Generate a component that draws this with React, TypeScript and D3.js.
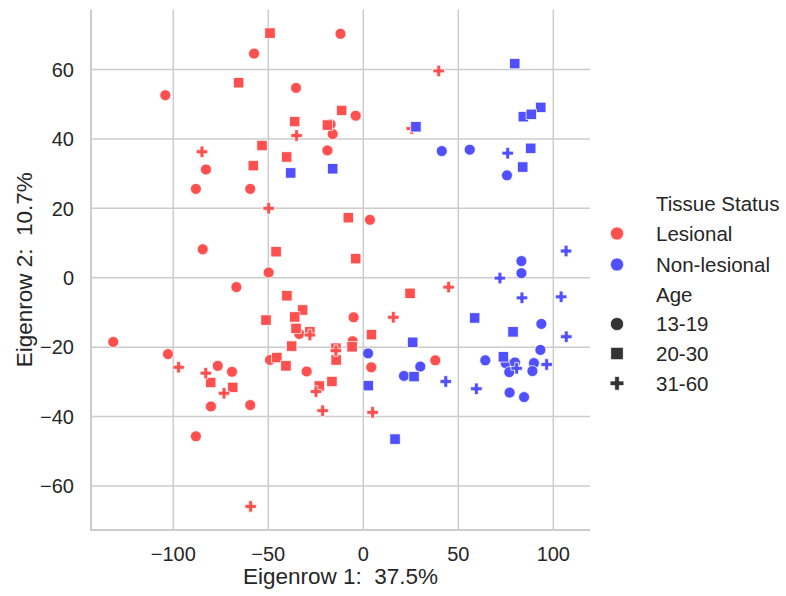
import React from "react";
import * as d3 from "d3";

// ---- data (Eigenrow 1, Eigenrow 2) ----
const lesionalCircleX = [-57.5, -12, -104.2, -35.4, -4.0, -17.2, -16.1, -18.9, -82.8, -88.1, -59.5, 3.5, -84.5, -49.8, -66.8, -5.1, -33.7, -131.6, -102.8, -5.6, -49.1, 37.9, 4.2, -76.6, -69.1, -29.8, -80.2, -59.5, -88.1];
const lesionalCircleY = [64.6, 70.3, 52.6, 54.7, 46.7, 44.2, 41.4, 36.7, 31.2, 25.6, 25.6, 16.7, 8.2, 1.5, -2.7, -11.4, -16.2, -18.5, -22.0, -18.3, -23.7, -23.8, -25.8, -25.4, -27.1, -27.0, -37.1, -36.7, -45.7];
const lesionalSquareX = [-49.1, -65.6, -11.4, -36.1, -18.9, -53.3, -40.3, -57.9, -7.9, -45.9, -4.0, -40.2, 24.6, -31.9, -36.1, -51.2, -35.4, -28.1, 4.3, -37.7, -5.9, -14.4, -14.3, -45.5, -40.7, -16.5, -23.2, -80.3, -68.7];
const lesionalSquareY = [70.5, 56.2, 48.2, 45.0, 44.0, 38.1, 34.8, 32.3, 17.3, 7.5, 5.5, -5.2, -4.5, -9.3, -11.3, -12.2, -14.6, -15.6, -16.4, -19.7, -19.9, -20.3, -23.7, -23.0, -25.4, -29.9, -31.2, -30.2, -31.6];
const lesionalPlusX = [39.7, -35.1, -84.9, -49.8, 44.9, 15.8, -28.1, -14.4, -97.2, -82.9, -73.3, -24.9, -21.4, 4.9, -59.3, 25.5];
const lesionalPlusY = [59.6, 41.0, 36.3, 20.0, -2.7, -11.4, -16.5, -21.0, -25.8, -27.5, -33.3, -32.8, -38.3, -38.8, -65.9, 43.0];
const nonLesCircleX = [41.3, 56.0, 75.6, 83.2, 83.2, 93.7, 93.2, 2.5, 64.2, 30.0, 21.4, 74.9, 79.8, 76.8, 89.8, 89.0, 77.0, 84.6];
const nonLesCircleY = [36.5, 36.9, 29.5, 4.8, 1.3, -13.3, -20.8, -21.8, -23.8, -25.6, -28.3, -24.6, -24.4, -27.2, -24.6, -26.9, -33.1, -34.4];
const nonLesSquareX = [79.7, 93.4, 84.2, 88.4, 27.7, 88.1, 83.9, -38.2, -16.1, 58.6, 78.8, 26.0, 73.7, 26.7, 2.6, 16.7];
const nonLesSquareY = [61.7, 49.1, 46.4, 47.1, 43.5, 37.3, 31.9, 30.2, 31.4, -11.6, -15.6, -18.6, -22.8, -28.5, -31.1, -46.5];
const nonLesPlusX = [76.0, 106.7, 71.9, 83.5, 104.1, 106.8, 80.7, 96.5, 43.4, 59.5];
const nonLesPlusY = [35.9, 7.7, -0.1, -5.8, -5.5, -17.0, -26.1, -25.0, -29.9, -32.0];

const xTicks = [-100, -50, 0, 50, 100];
const yTicks = [-60, -40, -20, 0, 20, 40, 60];
const tissueLabels = ["Lesional", "Non-lesional"];
const ageLabels = ["13-19", "20-30", "31-60"];

const RED = "#ff5050";
const BLUE = "#5050ff";
const GRID = "#cccccc";
const TEXT = "#262626";
const FONT = "'Liberation Sans', Arial, sans-serif";

type Pt = { x: number; y: number; status: number; age: number };
function zipPts(xs: number[], ys: number[], status: number, age: number): Pt[] {
  return xs.map((x, i) => ({ x, y: ys[i], status, age }));
}

const points: Pt[] = [
  ...zipPts(lesionalCircleX, lesionalCircleY, 0, 0),
  ...zipPts(lesionalSquareX, lesionalSquareY, 0, 1),
  ...zipPts(lesionalPlusX, lesionalPlusY, 0, 2),
  ...zipPts(nonLesCircleX, nonLesCircleY, 1, 0),
  ...zipPts(nonLesSquareX, nonLesSquareY, 1, 1),
  ...zipPts(nonLesPlusX, nonLesPlusY, 1, 2),
];

function plusPath(size: number) {
  const a = size / 6;
  const b = size / 2;
  return `M${-a},${-b}H${a}V${-a}H${b}V${a}H${a}V${b}H${-a}V${a}H${-b}V${-a}H${-a}Z`;
}

function Marker({ cx, cy, shape, color, scale = 1 }: { cx: number; cy: number; shape: number; color: string; scale?: number }) {
  const stroke = "#ffffff";
  const sw = 0.75;
  if (shape === 0) {
    return <circle cx={cx} cy={cy} r={5.5 * scale} fill={color} stroke={stroke} strokeWidth={sw} />;
  }
  if (shape === 1) {
    const s = 10.4 * scale;
    return <rect x={cx - s / 2} y={cy - s / 2} width={s} height={s} fill={color} stroke={stroke} strokeWidth={sw} />;
  }
  return <path d={plusPath(11.5 * scale)} transform={`translate(${cx},${cy})`} fill={color} stroke={stroke} strokeWidth={sw} />;
}

export default function App() {
  const W = 786;
  const H = 596;
  const left = 91;
  const right = 590;
  const top = 9.5;
  const bottom = 530;
  const x = d3.scaleLinear().domain([-143.3, 119.3]).range([left, right]);
  const y = d3.scaleLinear().domain([-72.7, 77.3]).range([bottom, top]);
  const fmt = d3.format("d");

  const legendX = 617;
  const legendTextX = 656;
  const rows = [204, 233.5, 264.5, 294.3, 324, 353.5, 383.3];

  return (
    <svg width={W} height={H} style={{ position: "absolute", left: 0, top: 0, background: "#fff" }} fontFamily={FONT}>
      {/* grid */}
      {xTicks.map((t) => (
        <line key={"gx" + t} x1={x(t)} x2={x(t)} y1={top} y2={bottom} stroke={GRID} strokeWidth={1.5} />
      ))}
      {yTicks.map((t) => (
        <line key={"gy" + t} x1={left} x2={right} y1={y(t)} y2={y(t)} stroke={GRID} strokeWidth={1.5} />
      ))}
      {/* spines */}
      <line x1={left} x2={left} y1={top} y2={bottom + 1} stroke={GRID} strokeWidth={2} />
      <line x1={left - 1} x2={right} y1={bottom} y2={bottom} stroke={GRID} strokeWidth={2} />

      {/* points */}
      {points.map((p, i) => (
        <Marker key={i} cx={x(p.x)} cy={y(p.y)} shape={p.age} color={p.status === 0 ? RED : BLUE} />
      ))}

      {/* tick labels */}
      {xTicks.map((t) => (
        <text key={"tx" + t} x={x(t)} y={561} textAnchor="middle" fontSize={20} fill={TEXT}>
          {fmt(t).replace("-", "\u2212")}
        </text>
      ))}
      {yTicks.map((t) => (
        <text key={"ty" + t} x={74} y={y(t)} dy="0.36em" textAnchor="end" fontSize={20} fill={TEXT}>
          {fmt(t).replace("-", "\u2212")}
        </text>
      ))}

      {/* axis labels */}
      <text x={(left + right) / 2} y={584} textAnchor="middle" fontSize={22.5} fill={TEXT} style={{ whiteSpace: "pre" }}>
        {"Eigenrow 1:  37.5%"}
      </text>
      <text transform={`translate(31.5,${(top + bottom) / 2}) rotate(-90)`} textAnchor="middle" fontSize={22.5} fill={TEXT} style={{ whiteSpace: "pre" }}>
        {"Eigenrow 2:  10.7%"}
      </text>

      {/* legend */}
      <text x={legendTextX} y={rows[0]} dy="0.36em" fontSize={20.5} fill={TEXT}>Tissue Status</text>
      {tissueLabels.map((l, i) => (
        <g key={l}>
          <Marker cx={legendX} cy={rows[1 + i]} shape={0} color={i === 0 ? RED : BLUE} scale={1.2} />
          <text x={legendTextX} y={rows[1 + i]} dy="0.36em" fontSize={20.5} fill={TEXT}>{l}</text>
        </g>
      ))}
      <text x={legendTextX} y={rows[3]} dy="0.36em" fontSize={20.5} fill={TEXT}>Age</text>
      {ageLabels.map((l, i) => (
        <g key={l}>
          <Marker cx={legendX} cy={rows[4 + i]} shape={i} color="#333333" scale={1.2} />
          <text x={legendTextX} y={rows[4 + i]} dy="0.36em" fontSize={20.5} fill={TEXT}>{l}</text>
        </g>
      ))}
    </svg>
  );
}
